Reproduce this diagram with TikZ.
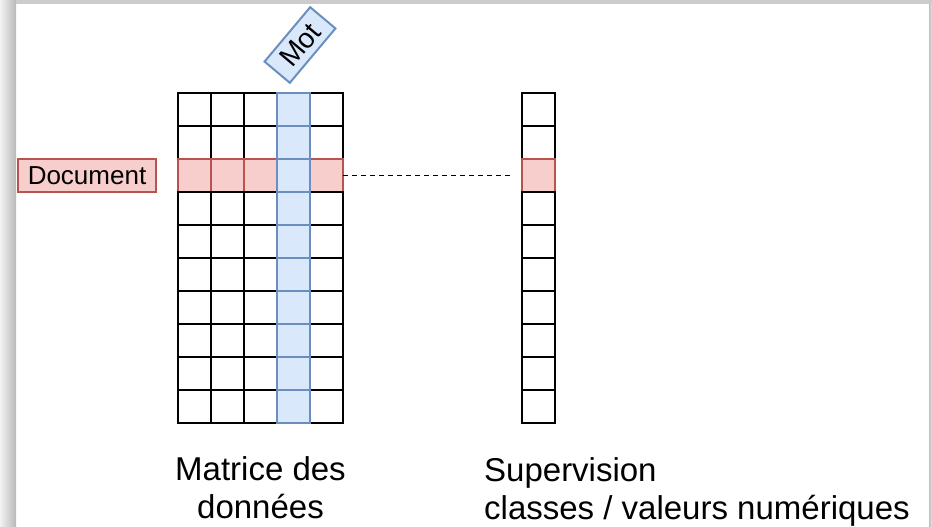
\documentclass[tikz,border=0pt]{standalone}
\usepackage{fontspec}
\setmainfont{Liberation Sans}
\usetikzlibrary{positioning}

\definecolor{docfill}{HTML}{F8CECC}
\definecolor{docline}{HTML}{B85450}
\definecolor{motfill}{HTML}{DAE8FC}
\definecolor{motline}{HTML}{6C8EBF}

\begin{document}
\begin{tikzpicture}[x=1pt, y=-1pt,
  cell/.style={draw=black, line width=2pt, fill=white, minimum width=33pt,
    minimum height=33pt, inner sep=0pt, outer sep=0pt},
  docrow/.style={cell, draw=docline, fill=docfill},
  motcol/.style={cell, draw=motline, fill=motfill},
  caption/.style={font=\fontsize{33}{38}\selectfont, inner sep=0pt}]

  % page with its shadow
  \useasboundingbox (0,0) rectangle (932,527);
  \fill[left color=gray!10, right color=gray!55] (0,0) rectangle (16,527);
  \fill[gray!40] (16,0) rectangle (932,4);
  \fill[left color=gray!50, right color=gray!20] (929,4) rectangle (932,527);

  % data matrix, row 3 = document, column 4 = word
  \foreach \r in {1,...,10}{
    \foreach \c in {1,2,3,5}{
      \ifnum\r=3 \def\sty{docrow}\else\def\sty{cell}\fi
      \node[\sty] (m-\r-\c) at ({178+33*(\c-0.5)},{92.7+33*(\r-0.5)}) {};
    }
  }
  \foreach \r in {1,...,10}
    \node[motcol] (m-\r-4) at ({178+33*3.5},{92.7+33*(\r-0.5)}) {};

  % supervision column
  \foreach \r in {1,...,10}{
    \ifnum\r=3 \def\sty{docrow}\else\def\sty{cell}\fi
    \node[\sty] (s-\r) at (538.3,{92.7+33*(\r-0.5)}) {};
  }

  % labels
  \node[docrow, minimum width=138pt, font=\fontsize{26}{30}\selectfont,
    left=22pt of m-3-1] (doc) {Document};
  \node[motcol, minimum width=71pt, rotate=50,
    font=\fontsize{28}{32}\selectfont] (mot) at (300,45) {Mot};

  \node[caption, align=center, below=34pt of m-10-3] (matrice) {Matrice des\\données};
  \node[caption, align=left, anchor=north west] (supervision) at (484,457)
    {Supervision\\classes / valeurs numériques};

  % link between document and its class
  \draw[line width=1.3pt, dash pattern=on 5pt off 4pt, shorten >=8pt] (m-3-5) -- (s-3);
\end{tikzpicture}
\end{document}
